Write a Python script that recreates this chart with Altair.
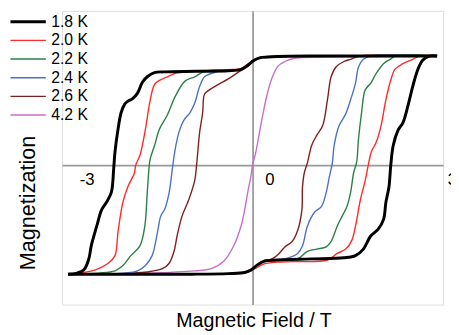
import altair as alt
import pandas as pd

temps = ["1.8 K", "2.0 K", "2.2 K", "2.4 K", "2.6 K", "4.2 K"]
colors = ["#000000", "#ff2a2a", "#2a7f46", "#4a72c4", "#7f2020", "#c86ec8"]
widths = [3.0, 1.4, 1.4, 1.4, 1.4, 1.4]
x_ticks = [-3, 0, 3]

# 1.8 K
h18_dn = [3.03, 2.0, 1.0, 0.4, 0.13, 0.02, -0.08, -0.19, -0.4, -0.92, -1.46, -1.60, -1.73, -1.81, -1.89, -1.97, -2.05, -2.10, -2.16, -2.21, -2.26, -2.28, -2.32, -2.40, -2.48, -2.56, -2.65, -2.69, -2.77, -2.88, -3.03]
m18_dn = [1.0, 1.0, 1.0, 0.995, 0.985, 0.96, 0.915, 0.877, 0.865, 0.86, 0.855, 0.85, 0.81, 0.76, 0.66, 0.61, 0.585, 0.56, 0.48, 0.33, 0.12, -0.02, -0.25, -0.34, -0.41, -0.56, -0.74, -0.86, -0.96, -0.99, -1.0]
h18_up = [-3.03, -2.0, -1.0, -0.4, -0.13, -0.02, 0.08, 0.19, 0.4, 0.96, 1.50, 1.69, 1.82, 1.94, 2.06, 2.15, 2.19, 2.24, 2.27, 2.31, 2.39, 2.47, 2.55, 2.63, 2.71, 2.79, 2.90, 3.03]
m18_up = [-1.0, -1.0, -1.0, -0.995, -0.985, -0.96, -0.915, -0.88, -0.87, -0.86, -0.85, -0.83, -0.77, -0.65, -0.59, -0.50, -0.34, -0.20, 0.0, 0.18, 0.32, 0.39, 0.54, 0.72, 0.87, 0.96, 1.0, 1.0]

# 2.0 K
h20_dn = [3.03, 2.0, 1.0, 0.4, 0.13, 0.02, -0.08, -0.19, -0.4, -0.92, -1.24, -1.40, -1.52, -1.61, -1.69, -1.76, -1.85, -1.92, -1.94, -2.05, -2.13, -2.21, -2.26, -2.37, -2.58, -2.85, -3.03]
m20_dn = [1.0, 1.0, 1.0, 0.997, 0.99, 0.965, 0.925, 0.885, 0.875, 0.865, 0.845, 0.81, 0.78, 0.74, 0.57, 0.33, 0.09, 0.0, -0.07, -0.20, -0.34, -0.61, -0.83, -0.90, -0.96, -0.99, -1.0]
h20_up = [-3.03, -2.0, -1.0, -0.4, -0.13, -0.02, 0.08, 0.19, 0.4, 0.69, 1.23, 1.39, 1.53, 1.63, 1.69, 1.77, 1.85, 1.90, 1.95, 2.03, 2.11, 2.19, 2.27, 2.34, 2.47, 2.63, 2.74, 3.03]
m20_up = [-1.0, -1.0, -1.0, -0.997, -0.99, -0.97, -0.935, -0.905, -0.89, -0.885, -0.87, -0.81, -0.77, -0.69, -0.56, -0.32, -0.14, 0.0, 0.12, 0.21, 0.36, 0.60, 0.78, 0.88, 0.93, 0.97, 1.0, 1.0]

# 2.2 K
h22_dn = [3.03, 2.0, 1.0, 0.4, 0.13, 0.02, -0.08, -0.19, -0.4, -0.65, -0.79, -0.95, -1.11, -1.27, -1.40, -1.53, -1.61, -1.68, -1.70, -1.73, -1.77, -1.85, -2.00, -2.13, -2.26, -2.53, -3.03]
m22_dn = [1.0, 1.0, 1.0, 0.995, 0.985, 0.96, 0.915, 0.877, 0.87, 0.87, 0.86, 0.81, 0.77, 0.63, 0.46, 0.33, 0.18, 0.06, -0.02, -0.25, -0.56, -0.74, -0.83, -0.92, -0.97, -0.99, -1.0]
h22_up = [-3.03, -2.0, -1.0, -0.4, -0.13, -0.02, 0.08, 0.19, 0.4, 0.74, 0.90, 1.06, 1.21, 1.29, 1.39, 1.47, 1.55, 1.61, 1.66, 1.71, 1.74, 1.79, 1.85, 1.94, 2.03, 2.15, 2.26, 2.35, 3.03]
m22_up = [-1.0, -1.0, -1.0, -0.995, -0.985, -0.96, -0.92, -0.885, -0.875, -0.86, -0.79, -0.77, -0.75, -0.70, -0.56, -0.47, -0.38, -0.25, -0.07, 0.03, 0.24, 0.48, 0.69, 0.75, 0.84, 0.93, 0.97, 1.0, 1.0]

# 2.4 K
h24_dn = [3.03, 2.0, 1.0, 0.4, 0.13, 0.02, -0.08, -0.19, -0.47, -0.68, -0.79, -0.87, -0.95, -1.03, -1.13, -1.21, -1.27, -1.31, -1.37, -1.44, -1.51, -1.56, -1.65, -1.76, -1.89, -2.10, -3.03]
m24_dn = [1.0, 1.0, 1.0, 0.995, 0.985, 0.96, 0.915, 0.88, 0.87, 0.84, 0.81, 0.72, 0.57, 0.48, 0.41, 0.30, 0.15, 0.0, -0.25, -0.40, -0.47, -0.61, -0.83, -0.92, -0.97, -0.99, -1.0]
h24_up = [-3.03, -2.0, -1.0, -0.4, -0.13, -0.02, 0.08, 0.19, 0.53, 0.74, 0.82, 0.90, 1.02, 1.13, 1.21, 1.26, 1.31, 1.34, 1.42, 1.53, 1.61, 1.69, 1.74, 1.82, 1.94, 3.03]
m24_up = [-1.0, -1.0, -1.0, -0.995, -0.985, -0.96, -0.915, -0.88, -0.86, -0.81, -0.74, -0.56, -0.43, -0.38, -0.25, -0.11, 0.02, 0.18, 0.36, 0.47, 0.60, 0.75, 0.90, 0.97, 1.0, 1.0]

# 2.6 K
h26_dn = [3.03, 2.0, 1.0, 0.4, 0.13, 0.02, -0.08, -0.24, -0.40, -0.56, -0.71, -0.79, -0.82, -0.87, -0.90, -0.92, -0.95, -1.05, -1.16, -1.24, -1.29, -1.37, -1.48, -1.73, -1.99, -3.03]
m26_dn = [1.0, 1.0, 1.0, 0.995, 0.985, 0.96, 0.905, 0.85, 0.79, 0.74, 0.69, 0.65, 0.48, 0.30, 0.12, 0.0, -0.14, -0.32, -0.47, -0.65, -0.79, -0.90, -0.95, -0.98, -0.99, -1.0]
h26_up = [-3.03, -2.0, -1.0, -0.4, -0.13, -0.02, 0.10, 0.21, 0.32, 0.42, 0.53, 0.65, 0.74, 0.81, 0.82, 0.85, 0.90, 0.97, 1.05, 1.15, 1.23, 1.29, 1.37, 1.50, 1.61, 1.77, 3.03]
m26_up = [-1.0, -1.0, -1.0, -0.995, -0.985, -0.96, -0.91, -0.88, -0.86, -0.82, -0.75, -0.70, -0.60, -0.41, -0.20, -0.07, 0.02, 0.18, 0.27, 0.36, 0.60, 0.81, 0.90, 0.95, 0.97, 1.0, 1.0]

# 4.2 K (no hysteresis)
h42 = [3.03, 1.23, 0.69, 0.53, 0.42, 0.32, 0.24, 0.16, 0.10, 0.05, 0.0, -0.03, -0.08, -0.14, -0.19, -0.31, -0.47, -0.68, -0.95, -1.73, -3.03]
m42 = [1.0, 0.99, 0.98, 0.95, 0.91, 0.80, 0.65, 0.44, 0.26, 0.11, 0.0, -0.11, -0.25, -0.44, -0.56, -0.74, -0.88, -0.95, -0.97, -0.99, -1.0]

branches = [
    ("4.2 K", "42", h42, m42),
    ("2.6 K", "26d", h26_dn, m26_dn), ("2.6 K", "26u", h26_up, m26_up),
    ("2.4 K", "24d", h24_dn, m24_dn), ("2.4 K", "24u", h24_up, m24_up),
    ("2.2 K", "22d", h22_dn, m22_dn), ("2.2 K", "22u", h22_up, m22_up),
    ("2.0 K", "20d", h20_dn, m20_dn), ("2.0 K", "20u", h20_up, m20_up),
    ("1.8 K", "18d", h18_dn, m18_dn), ("1.8 K", "18u", h18_up, m18_up),
]

rows = []
for t, b, hs, ms in branches:
    for i, (h, m) in enumerate(zip(hs, ms)):
        rows.append({"T": t, "branch": b, "i": i, "H": h, "M": m})
df = pd.DataFrame(rows)

FONT = "Liberation Sans"

x_axis = alt.Axis(
    values=x_ticks, labelExpr="replace(datum.label, '\u2212', '-')",
    offset=-142, ticks=False, grid=False, domainColor="#9a9a9a", domainWidth=1.8,
    labelFontSize=17, labelOffset=17, labelPadding=7, labelColor="#000000", labelFont=FONT,
    labelFlush=False, labelOverlap=False,
    title="Magnetic Field / T", titleFont=FONT, titleFontSize=20, titleFontWeight="normal",
    titleColor="#000000", titleX=195, titleY=164, titleBaseline="alphabetic", titleAlign="center",
)
y_axis = alt.Axis(
    offset=-194, ticks=False, labels=False, grid=False, domainColor="#9a9a9a", domainWidth=1.8,
    title="Magnetization", titleFont=FONT, titleFontSize=22, titleFontWeight="normal",
    titleColor="#000000", titleX=-229, titleY=195, titleAngle=270, titleBaseline="middle",
    titleAlign="center",
)

legend = alt.Legend(
    orient="none", legendX=-54, legendY=3, title=None, padding=0,
    symbolType="stroke", symbolSize=1296, clipHeight=16, rowPadding=3,
    labelFontSize=16, labelFont=FONT, labelColor="#000000", labelOffset=4,
)

chart = alt.Chart(df).mark_line(interpolate="catmull-rom").encode(
    x=alt.X("H:Q", scale=alt.Scale(domain=[-3.13, 3.13], nice=False, zero=False), axis=x_axis),
    y=alt.Y("M:Q", scale=alt.Scale(domain=[-1.279, 1.414], nice=False, zero=False), axis=y_axis),
    color=alt.Color("T:N", scale=alt.Scale(domain=temps, range=colors), legend=legend),
    strokeWidth=alt.StrokeWidth("T:N", scale=alt.Scale(type="ordinal", domain=temps, range=widths), legend=legend),
    detail="branch:N",
    order="i:Q",
).properties(
    width=388, height=299,
    padding={"left": 55, "top": 0, "right": 8, "bottom": 28},
    autosize=alt.AutoSizeParams(type="none"),
).configure_view(stroke=None).configure(background="white")

chart.save("out.html", embed_options={"renderer": "svg", "actions": False})
